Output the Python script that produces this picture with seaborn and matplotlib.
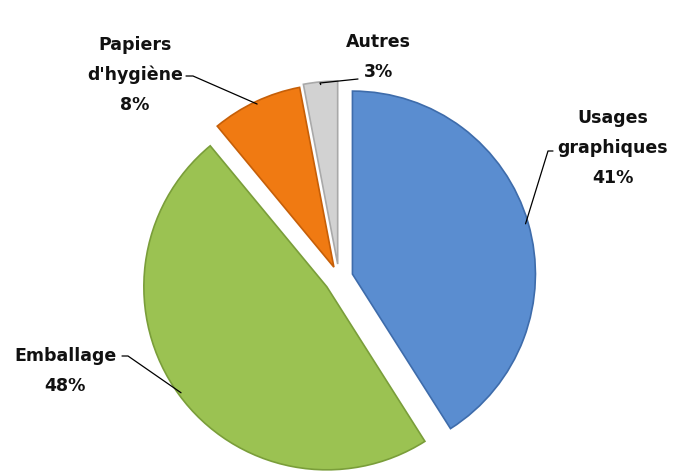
import numpy as np
import matplotlib
matplotlib.use("Agg")
import matplotlib.pyplot as plt
import seaborn as sns

# Répartition de la consommation de papiers et cartons
categories = ["Usages\ngraphiques", "Emballage", "Papiers\nd'hygiène", "Autres"]
shares = [41, 48, 8, 3]
colors = ["#5A8DD0", "#9BC252", "#F07A12", "#D2D2D2"]
edge_colors = ["#3E6CAB", "#7A9E3A", "#C65F08", "#A9A9A9"]

sns.set_theme(style="white")
plt.rcParams["font.family"] = ["DejaVu Sans"]

W, H = 673, 477
fig = plt.figure(figsize=(W / 100, H / 100), dpi=100)
ax = fig.add_axes([0, 0, 1, 1])

center = (339, -279)
radius = 183
# explode is in data units (pixels here)
wedges, _ = ax.pie(
    shares,
    colors=colors,
    startangle=90,
    counterclock=False,
    explode=[14, 15, 12, 14],
    center=center,
    radius=radius,
    wedgeprops=dict(linewidth=1.2),
)
for w, ec in zip(wedges, edge_colors):
    w.set_edgecolor(ec)

ax.set_xlim(0, W)
ax.set_ylim(-H, 0)
ax.set_aspect("equal")
ax.axis("off")

# label text position, elbow of the leader line
label_pos = [(613, -148), (65, -371), (135, -75), (378, -57)]
elbows = [[(548, -152), (553, -152)],
          [(128, -357), (122, -357)],
          [(193, -77), (186, -77)],
          [(320, -84), (358, -80)]]

for w, txt, share, pos, elb in zip(wedges, categories, shares, label_pos, elbows):
    mid = np.deg2rad((w.theta1 + w.theta2) / 2)
    cx, cy = w.center
    ax_pt = (cx + 0.985 * w.r * np.cos(mid), cy + 0.985 * w.r * np.sin(mid))
    xs = [ax_pt[0]] + [p[0] for p in elb]
    ys = [ax_pt[1]] + [p[1] for p in elb]
    ax.plot(xs, ys, color="black", lw=0.9)
    ax.text(pos[0], pos[1], f"{txt}\n{share}%", ha="center", va="center",
            fontsize=12.5, fontweight="bold", color="#111111", linespacing=1.85)

fig.savefig("out.png", dpi=100)
